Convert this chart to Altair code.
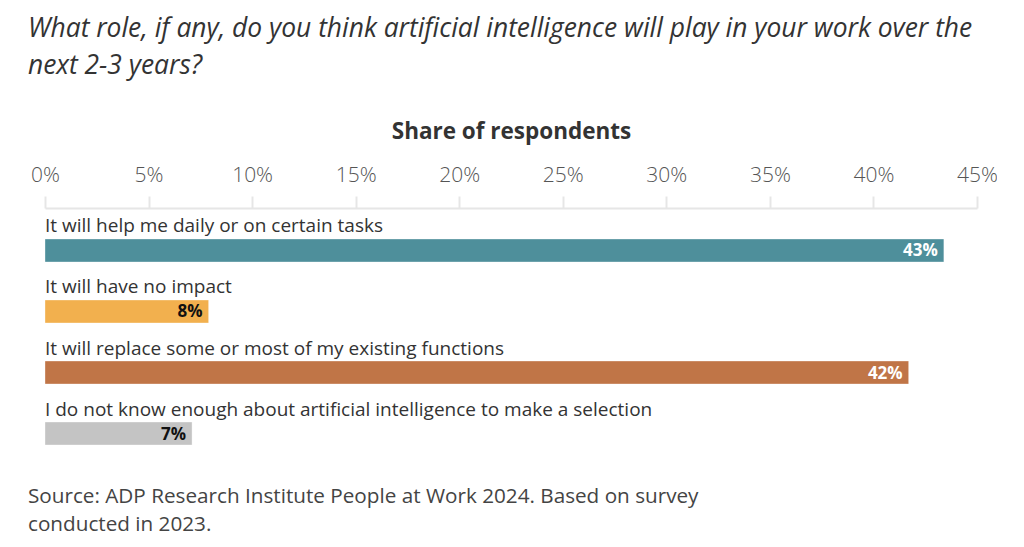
import altair as alt
import pandas as pd

categories = [
    "It will help me daily or on certain tasks",
    "It will have no impact",
    "It will replace some or most of my existing functions",
    "I do not know enough about artificial intelligence to make a selection",
]
shares = [43.4, 7.9, 41.7, 7.1]
value_labels = ["43%", "8%", "42%", "7%"]
bar_colors = ["#4E8F9B", "#F2B04E", "#C07547", "#C4C4C4"]
label_colors = ["#FFFFFF", "#111111", "#FFFFFF", "#111111"]
tick_values = [0, 5, 10, 15, 20, 25, 30, 35, 40, 45]
title_lines = [
    "What role, if any, do you think artificial intelligence will play in your work over the",
    "next 2-3 years?",
]
source_lines = [
    "Source: ADP Research Institute People at Work 2024. Based on survey",
    "conducted in 2023.",
]

df = pd.DataFrame({
    "category": categories,
    "share": shares,
    "label": value_labels,
    "color": bar_colors,
    "label_color": label_colors,
})

FONT = "Open Sans"

y_enc = alt.Y(
    "category:N",
    sort=categories,
    axis=None,
    scale=alt.Scale(paddingInner=0.623, paddingOuter=0.508),
)

bars = alt.Chart(df).mark_bar(stroke="#ffffff", strokeOpacity=0.35, strokeWidth=1).encode(
    x=alt.X(
        "share:Q",
        scale=alt.Scale(domain=[0, 45], nice=False),
        axis=alt.Axis(
            orient="top",
            values=tick_values,
            labelExpr="datum.value + '%'",
            title="Share of respondents",
            titleFont=FONT,
            titleFontSize=22.5,
            titleFontWeight="bold",
            titleColor="#333333",
            titlePadding=21,
            labelFont=FONT,
            labelFontSize=21,
            labelFontWeight=300,
            labelColor="#555555",
            labelPadding=11,
            labelFlush=False,
            domainColor="#E6E6E6",
            domainWidth=2,
            tickColor="#E6E6E6",
            tickWidth=2,
            tickSize=12,
            grid=False,
        ),
    ),
    y=y_enc,
    color=alt.Color("color:N", scale=None, legend=None),
)

cat_text = alt.Chart(df).mark_text(
    align="left", baseline="middle", dy=-24, font=FONT, fontSize=19, color="#333333"
).encode(
    x=alt.value(0),
    y=y_enc,
    text="category:N",
)

val_text = alt.Chart(df).mark_text(
    align="right", baseline="middle", dx=-6, dy=1, font=FONT, fontSize=17, fontWeight="bold"
).encode(
    x="share:Q",
    y=y_enc,
    text="label:N",
    color=alt.Color("label_color:N", scale=None, legend=None),
)

src_layers = []
for i, line in enumerate(source_lines):
    src_layers.append(
        alt.Chart(pd.DataFrame({"line": [line]})).mark_text(
            align="left", baseline="middle", font=FONT, fontSize=20.7, color="#444444"
        ).encode(
            x=alt.value(-17),
            y=alt.value(289 + 28 * i),
            text="line:N",
        )
    )

chart = alt.layer(bars, cat_text, val_text, *src_layers).properties(
    width=932,
    height=268,
    autosize=alt.AutoSizeParams(type="none"),
    padding={"left": 37, "top": 200, "right": 20, "bottom": 63},
    title=alt.TitleParams(
        text=title_lines,
        anchor="start",
        frame="group",
        dx=-17,
        font=FONT,
        fontSize=26.4,
        fontStyle="italic",
        fontWeight="normal",
        color="#333333",
        lineHeight=37,
        offset=41,
    ),
).configure_view(stroke=None)

chart.save("out.html", embed_options={"renderer": "svg", "actions": False})
